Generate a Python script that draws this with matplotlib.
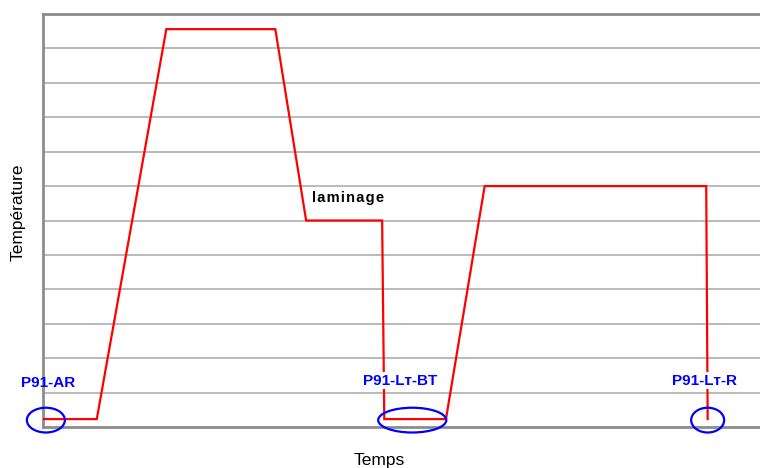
import matplotlib
matplotlib.use("Agg")
import matplotlib.pyplot as plt
from matplotlib.patches import Ellipse

plt.rcParams['font.family'] = ['Liberation Sans', 'DejaVu Sans']

# data (time arbitrary units, temperature arbitrary units)
temps_x = [0, 7.5, 17.2, 32.4, 36.7, 47.3, 47.6, 56.2, 61.6, 92.5, 92.7]
temp_y = [0.23, 0.23, 11.56, 11.56, 6.0, 6.0, 0.23, 0.23, 7.0, 7.0, 0.23]
grid_levels = list(range(0, 12))
labels = ["P91-AR", "P91-L\u1d1b-BT", "P91-L\u1d1b-R"]

fig = plt.figure(figsize=(7.6, 4.68), dpi=100)
ax = fig.add_axes([43/760, 1-427/468, 1-43/760, (427-14)/468])
ax.set_xlim(0, 100)
ax.set_ylim(0, 12)
for g in grid_levels[1:]:
    ax.axhline(g, color='#b4b4b4', lw=1.3, zorder=1)
ax.plot(temps_x, temp_y, color='#ff0000', lw=1.6, zorder=3, solid_joinstyle='miter')

for s in ['left', 'bottom', 'top']:
    ax.spines[s].set_color('#8c8c8c')
    ax.spines[s].set_linewidth(2)
ax.spines['right'].set_visible(False)
ax.set_xticks([])
ax.set_yticks([])

# ellipses
ell = [(0.4, 0.2, 5.3, 0.72), (51.5, 0.2, 9.5, 0.72), (92.7, 0.2, 4.6, 0.72)]
for (cx, cy, w, h) in ell:
    ax.add_patch(Ellipse((cx, cy), w, h, fill=False, edgecolor='#0000ff', lw=1.6, zorder=4, clip_on=False))

ax.text(0.7, 1.28, labels[0], color='#0000ff', fontsize=11, fontweight='bold', ha='center', va='center', zorder=5)
ax.text(49.8, 1.35, labels[1], color='#0000ff', fontsize=11, fontweight='bold', ha='center', va='center', zorder=5,
        bbox=dict(facecolor='white', edgecolor='none', pad=1))
ax.text(92.3, 1.35, labels[2], color='#0000ff', fontsize=11, fontweight='bold', ha='center', va='center', zorder=5,
        bbox=dict(facecolor='white', edgecolor='none', pad=1))

ax.text(42.5, 6.65, "\u200a".join("laminage"), color='black', fontsize=10.5, fontweight='bold',
        ha='center', va='center', zorder=5)

fig.text(18/760, 1-212/468, "Température", rotation=90, ha='center', va='center', fontsize=12.5)
fig.text(379/760, 1-460/468, "Temps", ha='center', va='center', fontsize=12.5)

fig.savefig("out.png", dpi=100)
